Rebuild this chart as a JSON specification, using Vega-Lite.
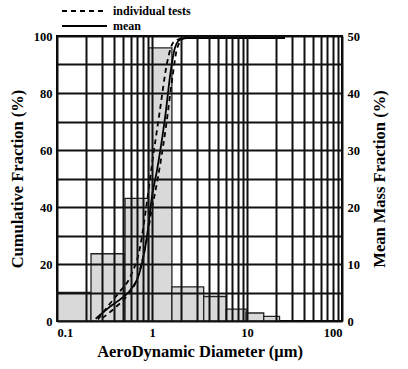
{
  "$schema": "https://vega.github.io/schema/vega-lite/v6.json",
  "width": 285,
  "height": 285,
  "autosize": "none",
  "padding": {"left": 57, "top": 36, "right": 66, "bottom": 48},
  "background": "white",
  "view": {"stroke": "black", "strokeWidth": 2},
  "config": {
    "font": "Liberation Serif",
    "axis": {"labelFont": "Liberation Serif", "labelFontWeight": "bold", "labelFontSize": 12.5, "labelColor": "black", "titleFont": "Liberation Serif", "titleFontWeight": "bold", "titleFontSize": 16.5, "titleColor": "black", "ticks": false, "domain": false}
  },
  "datasets": {
    "hist": [
      {"lo": 0.1, "hi": 0.228, "frac": 5},
      {"lo": 0.228, "hi": 0.52, "frac": 11.8},
      {"lo": 0.52, "hi": 0.92, "frac": 21.5},
      {"lo": 0.92, "hi": 1.62, "frac": 47.9},
      {"lo": 1.62, "hi": 3.5, "frac": 6},
      {"lo": 3.5, "hi": 6.05, "frac": 4.3},
      {"lo": 6.05, "hi": 9.8, "frac": 2.1},
      {"lo": 9.8, "hi": 15, "frac": 1.4},
      {"lo": 15, "hi": 22, "frac": 0.8}
    ],
    "cum": [
      {"test": "mean", "kind": "mean", "d": 0.255, "cum": 0.8},
      {"test": "mean", "kind": "mean", "d": 0.364, "cum": 5.1},
      {"test": "mean", "kind": "mean", "d": 0.5, "cum": 8.5},
      {"test": "mean", "kind": "mean", "d": 0.59, "cum": 10.8},
      {"test": "mean", "kind": "mean", "d": 0.753, "cum": 18},
      {"test": "mean", "kind": "mean", "d": 0.885, "cum": 29.7},
      {"test": "mean", "kind": "mean", "d": 1.0, "cum": 43.7},
      {"test": "mean", "kind": "mean", "d": 1.13, "cum": 53},
      {"test": "mean", "kind": "mean", "d": 1.38, "cum": 72},
      {"test": "mean", "kind": "mean", "d": 1.58, "cum": 88},
      {"test": "mean", "kind": "mean", "d": 1.75, "cum": 96},
      {"test": "mean", "kind": "mean", "d": 2.0, "cum": 98.8},
      {"test": "mean", "kind": "mean", "d": 2.5, "cum": 99.3},
      {"test": "mean", "kind": "mean", "d": 25, "cum": 99.3},
      {"test": "t1", "kind": "individual tests", "d": 0.27, "cum": 0.5},
      {"test": "t1", "kind": "individual tests", "d": 0.34, "cum": 5},
      {"test": "t1", "kind": "individual tests", "d": 0.45, "cum": 10},
      {"test": "t1", "kind": "individual tests", "d": 0.6, "cum": 16},
      {"test": "t1", "kind": "individual tests", "d": 0.75, "cum": 26},
      {"test": "t1", "kind": "individual tests", "d": 0.87, "cum": 40},
      {"test": "t1", "kind": "individual tests", "d": 1.0, "cum": 55},
      {"test": "t1", "kind": "individual tests", "d": 1.2, "cum": 73},
      {"test": "t1", "kind": "individual tests", "d": 1.45, "cum": 91},
      {"test": "t1", "kind": "individual tests", "d": 1.7, "cum": 98},
      {"test": "t1", "kind": "individual tests", "d": 2.2, "cum": 99.3},
      {"test": "t1", "kind": "individual tests", "d": 25, "cum": 99.3},
      {"test": "t2", "kind": "individual tests", "d": 0.3, "cum": 1},
      {"test": "t2", "kind": "individual tests", "d": 0.42, "cum": 5},
      {"test": "t2", "kind": "individual tests", "d": 0.55, "cum": 9},
      {"test": "t2", "kind": "individual tests", "d": 0.7, "cum": 15},
      {"test": "t2", "kind": "individual tests", "d": 0.85, "cum": 26},
      {"test": "t2", "kind": "individual tests", "d": 0.98, "cum": 38},
      {"test": "t2", "kind": "individual tests", "d": 1.15, "cum": 50},
      {"test": "t2", "kind": "individual tests", "d": 1.4, "cum": 68},
      {"test": "t2", "kind": "individual tests", "d": 1.65, "cum": 86},
      {"test": "t2", "kind": "individual tests", "d": 1.85, "cum": 96},
      {"test": "t2", "kind": "individual tests", "d": 2.2, "cum": 99.3},
      {"test": "t2", "kind": "individual tests", "d": 25, "cum": 99.3}
    ]
  },
  "layer": [
    {
      "data": {"name": "hist"},
      "mark": {"type": "rect", "fill": "#d9d9d9", "stroke": "#222", "strokeWidth": 1.3},
      "encoding": {
        "x": {"field": "lo", "type": "quantitative",
          "scale": {"type": "log", "domain": [0.1, 100], "nice": false},
          "axis": {"title": "AeroDynamic Diameter (μm)", "values": [0.1,0.2,0.3,0.4,0.5,0.6,0.7,0.8,0.9,1,2,3,4,5,6,7,8,9,10,20,30,40,50,60,70,80,90,100],
            "format": "~g", "labelExpr": "(datum.value == 0.1 || datum.value == 1 || datum.value == 10 || datum.value == 100) ? datum.label : ''",
            "grid": true, "gridColor": "#111", "gridWidth": 2, "gridOpacity": 1, "zindex": 1, "labelPadding": 5, "titlePadding": 5}},
        "x2": {"field": "hi"},
        "y": {"field": "frac", "type": "quantitative",
          "scale": {"domain": [0, 50], "nice": false},
          "axis": {"orient": "right", "title": "Mean Mass Fraction (%)", "titleAngle": -90, "titleBaseline": "top", "values": [0,10,20,30,40,50], "grid": false, "labelPadding": 5, "titlePadding": 12}},
        "y2": {"datum": 0}
      }
    },
    {
      "data": {"name": "cum"},
      "mark": {"type": "line", "color": "black", "strokeWidth": 1.8, "interpolate": "monotone"},
      "encoding": {
        "x": {"field": "d", "type": "quantitative"},
        "y": {"field": "cum", "type": "quantitative",
          "scale": {"domain": [0, 100], "nice": false},
          "axis": {"orient": "left", "title": "Cumulative Fraction (%)", "values": [0,10,20,30,40,50,60,70,80,90,100],
            "labelExpr": "datum.value % 20 == 0 ? datum.label : ''",
            "grid": true, "gridColor": "#111", "gridWidth": 2, "gridOpacity": 1, "zindex": 1, "labelPadding": 5, "titlePadding": 8}},
        "detail": {"field": "test"},
        "strokeDash": {"field": "kind", "type": "nominal",
          "scale": {"domain": ["individual tests", "mean"], "range": [[5, 4], [1, 0]]},
          "legend": {"title": null, "orient": "none", "legendX": 4, "legendY": -31, "symbolType": "stroke", "symbolSize": 2025, "symbolStrokeColor": "black", "symbolStrokeWidth": 2, "clipHeight": 12, "rowPadding": 3, "labelFont": "Liberation Serif", "labelFontWeight": "bold", "labelFontSize": 12, "labelColor": "black", "labelOffset": 5, "padding": 0}}
      }
    }
  ],
  "resolve": {"scale": {"y": "independent", "strokeDash": "independent"}}
}
